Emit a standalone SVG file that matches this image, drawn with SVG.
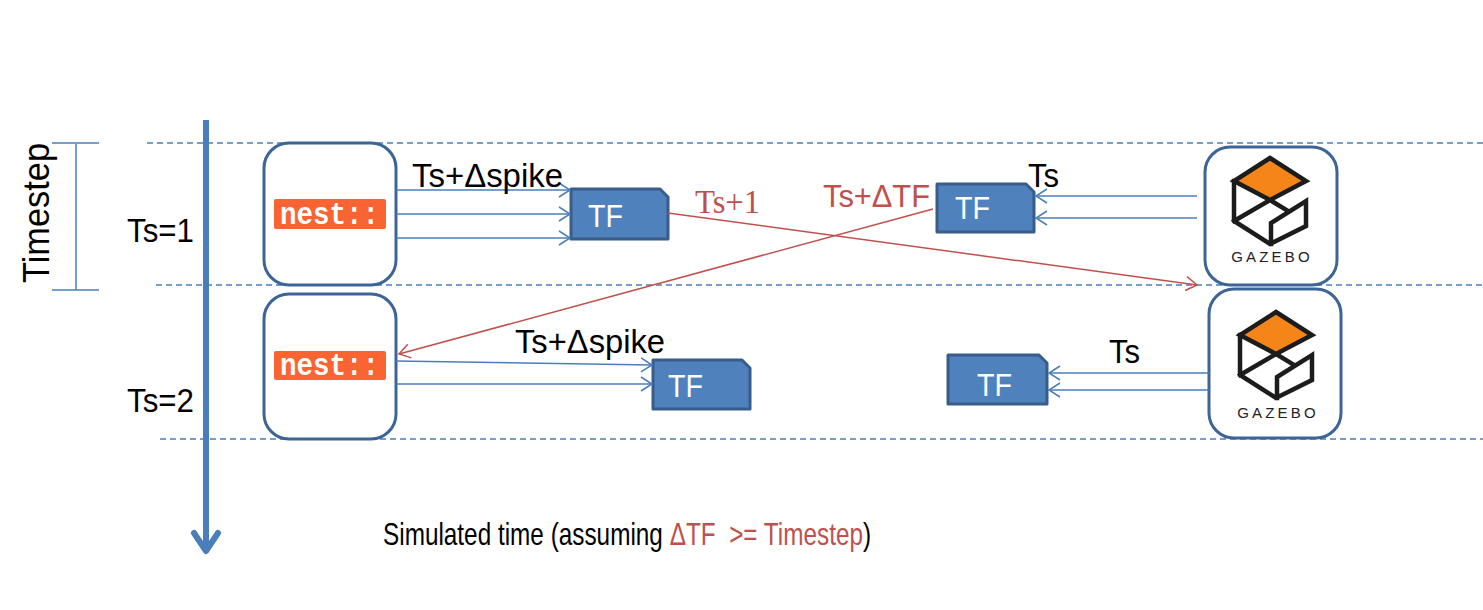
<svg xmlns="http://www.w3.org/2000/svg" width="1483" height="610" viewBox="0 0 1483 610">
  <style>
    .lbl{font-family:"Liberation Sans",Arial,sans-serif;fill:#000}
    .red{fill:#C0504D}
    .box{fill:#fff;stroke:#3D6496;stroke-width:3}
    .tf{fill:#4F81BD;stroke:#385D8A;stroke-width:3;stroke-linejoin:round}
    .tft{font-family:"Liberation Sans",Arial,sans-serif;font-size:32px;fill:#fff}
    .nestbg{fill:#F96432}
    .nestt{font-family:"Liberation Mono","Courier New",monospace;font-weight:bold;font-size:31px;fill:#fff}
    .gz{fill:none;stroke:#1c1c1c;stroke-width:4.5;stroke-linejoin:miter;stroke-linecap:square}
    .gzd{fill:#F58518;stroke:#1c1c1c;stroke-width:4.5;stroke-linejoin:miter}
    .gzt{font-family:"Liberation Sans",Arial,sans-serif;font-size:15px;letter-spacing:3.2px;fill:#222}
    .dash{stroke:#4A7EBB;stroke-width:1.5;stroke-dasharray:6 4;fill:none}
    .blue{stroke:#4A7EBB;stroke-width:1.5;fill:none}
    .redl{stroke:#C0504D;stroke-width:1.5;fill:none}
  </style>
  <defs>
    <marker id="ab" markerUnits="userSpaceOnUse" markerWidth="16" markerHeight="18" viewBox="-13 -9 16 18" refX="0" refY="0" orient="auto">
      <path d="M -11 -7 L 0 0 L -11 7" fill="none" stroke="#4A7EBB" stroke-width="1.5"/>
    </marker>
    <marker id="ar" markerUnits="userSpaceOnUse" markerWidth="16" markerHeight="18" viewBox="-13 -9 16 18" refX="0" refY="0" orient="auto">
      <path d="M -11 -7 L 0 0 L -11 7" fill="none" stroke="#C0504D" stroke-width="1.5"/>
    </marker>
    <g id="gzlogo">
      <path class="gz" d="M -36 -19 V 21 L 0 44 L 36 26 V 1 L 1 23 V 44 M 0 0 L -36 21 M 0 0 L 18 11"/>
      <path class="gzd" d="M 0 -42 L 36 -19 L 0 0 L -36 -19 Z"/>
    </g>
  </defs>

  <g id="grid">
    <line class="dash" x1="147" y1="143" x2="1483" y2="143"/>
    <line class="dash" x1="156" y1="285" x2="1483" y2="285"/>
    <line class="dash" x1="160" y1="439" x2="1483" y2="439"/>
  </g>

  <g id="timestep-bracket">
    <line class="blue" x1="52" y1="143" x2="99" y2="143" stroke-width="2"/>
    <line class="blue" x1="52" y1="290" x2="99" y2="290" stroke-width="2"/>
    <line class="blue" x1="76" y1="144" x2="76" y2="290" stroke-width="2"/>
    <text class="lbl" font-size="36" text-anchor="middle" textLength="140" lengthAdjust="spacingAndGlyphs" transform="translate(49,213) rotate(-90)">Timestep</text>
  </g>

  <g id="time-axis">
    <line x1="206" y1="120" x2="206" y2="551" stroke="#4A7EBB" stroke-width="6"/>
    <path d="M 194 533 L 206 551 L 218 533" fill="none" stroke="#4A7EBB" stroke-width="6" stroke-linecap="round" stroke-linejoin="round"/>
    <text class="lbl" x="127" y="242" font-size="33" textLength="67" lengthAdjust="spacingAndGlyphs">Ts=1</text>
    <text class="lbl" x="127" y="412" font-size="33" textLength="67" lengthAdjust="spacingAndGlyphs">Ts=2</text>
  </g>

  <g id="nest1">
    <rect class="box" x="264" y="143" width="132" height="142" rx="25"/>
    <rect class="nestbg" x="274" y="199" width="112" height="30" rx="2"/>
    <text class="nestt" x="280" y="224" textLength="99" lengthAdjust="spacingAndGlyphs">nest::</text>
  </g>
  <g id="nest2">
    <rect class="box" x="264" y="294" width="132" height="145" rx="25"/>
    <rect class="nestbg" x="274" y="351" width="112" height="29" rx="2"/>
    <text class="nestt" x="280" y="375" textLength="99" lengthAdjust="spacingAndGlyphs">nest::</text>
  </g>

  <g id="gazebo1">
    <rect class="box" x="1205" y="147" width="132" height="138" rx="25"/>
    <use href="#gzlogo" transform="translate(1270,200)"/>
    <text class="gzt" x="1272" y="262" text-anchor="middle">GAZEBO</text>
  </g>
  <g id="gazebo2">
    <rect class="box" x="1209" y="289" width="132" height="149" rx="25"/>
    <use href="#gzlogo" transform="translate(1276,354)"/>
    <text class="gzt" x="1278" y="418" text-anchor="middle">GAZEBO</text>
  </g>

  <g id="tf1">
    <path class="tf" d="M 571 189 H 660 L 668 197 V 239 H 571 Z"/>
    <text class="tft" x="588" y="227" textLength="35" lengthAdjust="spacingAndGlyphs">TF</text>
  </g>
  <g id="tf2">
    <path class="tf" d="M 937 184 H 1026 L 1034 192 V 232 H 937 Z"/>
    <text class="tft" x="955" y="219" textLength="35" lengthAdjust="spacingAndGlyphs">TF</text>
  </g>
  <g id="tf3">
    <path class="tf" d="M 948 355 H 1039 L 1047 363 V 404 H 948 Z"/>
    <text class="tft" x="977" y="396" textLength="35" lengthAdjust="spacingAndGlyphs">TF</text>
  </g>
  <g id="tf4">
    <path class="tf" d="M 653 360 H 742 L 750 368 V 409 H 653 Z"/>
    <text class="tft" x="668" y="397" textLength="35" lengthAdjust="spacingAndGlyphs">TF</text>
  </g>

  <g id="connectors">
    <line class="blue" x1="396" y1="190" x2="570" y2="190" marker-end="url(#ab)"/>
    <line class="blue" x1="396" y1="214" x2="570" y2="214" marker-end="url(#ab)"/>
    <line class="blue" x1="396" y1="238" x2="570" y2="238" marker-end="url(#ab)"/>
    <line class="blue" x1="1197" y1="196" x2="1036" y2="196" marker-end="url(#ab)"/>
    <line class="blue" x1="1197" y1="218" x2="1036" y2="218" marker-end="url(#ab)"/>
    <line class="blue" x1="396" y1="361" x2="652" y2="365" marker-end="url(#ab)"/>
    <line class="blue" x1="396" y1="384" x2="652" y2="384" marker-end="url(#ab)"/>
    <line class="blue" x1="1209" y1="373" x2="1049" y2="373" marker-end="url(#ab)"/>
    <line class="blue" x1="1209" y1="390" x2="1049" y2="390" marker-end="url(#ab)"/>
    <line class="redl" x1="668" y1="213" x2="1197" y2="285" marker-end="url(#ar)"/>
    <line class="redl" x1="933" y1="209" x2="399" y2="354" marker-end="url(#ar)"/>
  </g>

  <g id="labels">
    <text class="lbl" x="412" y="187" font-size="34" textLength="151" lengthAdjust="spacingAndGlyphs">Ts+Δspike</text>
    <text class="lbl" x="515" y="353" font-size="34" textLength="150" lengthAdjust="spacingAndGlyphs">Ts+Δspike</text>
    <text class="lbl" x="1028" y="187" font-size="33" textLength="31" lengthAdjust="spacingAndGlyphs">Ts</text>
    <text class="lbl" x="1109" y="363" font-size="33" textLength="31" lengthAdjust="spacingAndGlyphs">Ts</text>
    <text x="695" y="213" font-family="'Liberation Serif','Times New Roman',serif" font-size="34" class="red" textLength="65" lengthAdjust="spacingAndGlyphs">Ts+1</text>
    <text class="lbl red" x="823" y="207" font-size="32" textLength="107" lengthAdjust="spacingAndGlyphs">Ts+ΔTF</text>
  </g>

  <g id="caption">
    <text class="lbl" x="0" y="0" font-size="31" transform="translate(383,545) scale(0.785,1)">Simulated time (assuming <tspan class="red">ΔTF&#160; &gt;= Timestep</tspan>)</text>
  </g>
</svg>
